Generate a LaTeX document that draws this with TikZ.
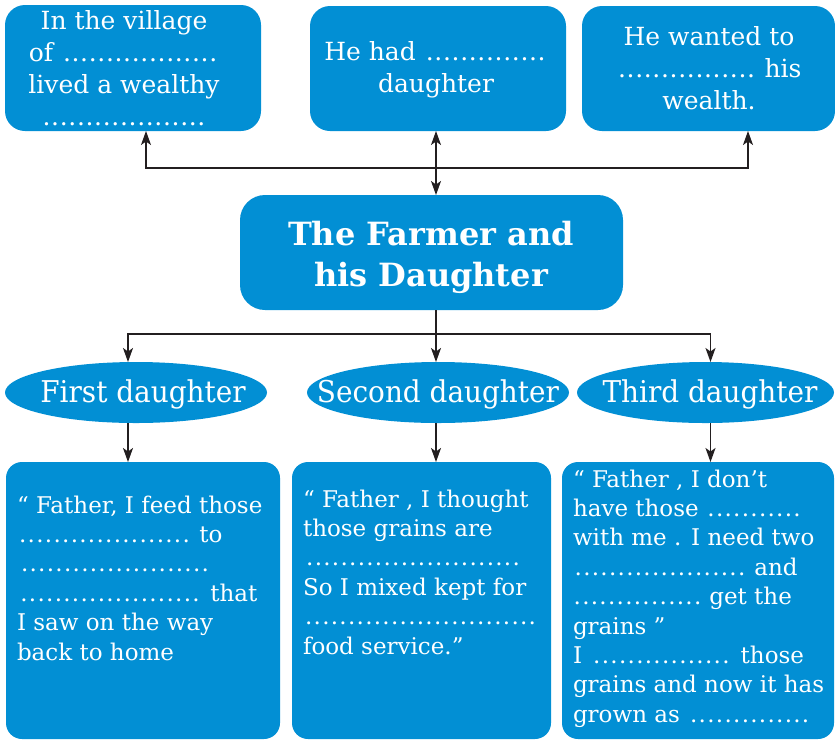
\documentclass[tikz,border=0pt]{standalone}
\usepackage{fontspec}
\setmainfont{DejaVu Serif}
\newfontfamily\elfont{DejaVu Serif}[FakeStretch=0.93]
\usetikzlibrary{arrows.meta,shapes.geometric}
\definecolor{fb}{RGB}{2,143,212}
\definecolor{ln}{RGB}{35,31,32}
\newcommand\dts[1]{\leavevmode\hbox to #1{\cleaders\hbox to 8.6pt{\hss.\hss}\hfill}}
\tikzset{
  box/.style={fill=fb, inner sep=0pt, outer sep=0pt},
  oval/.style={ellipse, fill=fb, inner sep=0pt, outer sep=0pt},
  txt/.style={text=white, inner sep=0pt, outer sep=0pt, font=\fontsize{23}{29.4}\selectfont},
  conn/.style={draw=ln, line width=1.3pt, -{Stealth[length=14pt,width=10pt,inset=3.5pt]}},
  conn2/.style={draw=ln, line width=1.3pt, {Stealth[length=14pt,width=10pt,inset=3.5pt]}-{Stealth[length=14pt,width=10pt,inset=3.5pt]}},
  line/.style={draw=ln, line width=1.3pt}
}
\begin{document}
\begin{tikzpicture}[x=1pt,y=-1pt]
\useasboundingbox (0,0) rectangle (835,740);
% top boxes
\node[box, rounded corners=20pt, minimum width=256pt, minimum height=126pt] (t1) at (133,68) {};
\node[box, rounded corners=20pt, minimum width=256pt, minimum height=125pt] (t2) at (438,68.5) {};
\node[box, rounded corners=20pt, minimum width=253pt, minimum height=125pt] (t3) at (708.5,68.5) {};
% central box
\node[box, rounded corners=25pt, minimum width=383pt, minimum height=115pt] (c) at (431.5,252.5) {};
% ellipses
\node[oval, minimum width=262pt, minimum height=61pt] (e1) at (136,392.5) {};
\node[oval, minimum width=262pt, minimum height=61pt] (e2) at (438,392.5) {};
\node[oval, minimum width=257pt, minimum height=61pt] (e3) at (705.5,392.5) {};
% bottom boxes
\node[box, rounded corners=16pt, minimum width=274pt, minimum height=277pt] (b1) at (143,600.5) {};
\node[box, rounded corners=16pt, minimum width=259pt, minimum height=277pt] (b2) at (421.5,600.5) {};
\node[box, rounded corners=16pt, minimum width=272pt, minimum height=277pt] (b3) at (698,600.5) {};

% texts top
\node[txt, anchor=base] (t1x) at (124,29) {\parbox[t]{250pt}{\centering\fontsize{25}{32.3}\selectfont In the village\\ of \dts{158pt}\\ lived a wealthy\\ \dts{164pt}}};
\node[txt, anchor=base] (t2x) at (436,60) {\parbox[t]{250pt}{\centering\fontsize{25}{32}\selectfont He had \dts{124pt}\\ daughter}};
\node[txt, anchor=base] (t3x) at (709,45) {\parbox[t]{250pt}{\centering\fontsize{25}{32}\selectfont He wanted to\\ \dts{140pt} his\\ wealth.}};
% title
\node[txt, anchor=base] (cx) at (431,245) {\parbox[t]{380pt}{\centering\fontsize{32}{41}\selectfont\bfseries The Farmer and\\ his Daughter}};
% ellipse texts
\node[txt, anchor=base] (e1x) at (143,402) {\elfont\fontsize{30}{30}\selectfont First daughter};
\node[txt, anchor=base] (e2x) at (438,402) {\elfont\fontsize{30}{30}\selectfont Second daughter};
\node[txt, anchor=base] (e3x) at (710,402) {\elfont\fontsize{30}{30}\selectfont Third daughter};
% bottom texts
\node[txt, anchor=base west] (b1x) at (17,513) {\parbox[t]{262pt}{\raggedright
“ Father, I feed those\\ \dts{175pt} to\\ \dts{196pt}\\ \dts{186pt} that\\ I saw on the way\\ back to home}};
\node[txt, anchor=base west] (b2x) at (303,507) {\parbox[t]{245pt}{\raggedright
“ Father , I thought\\ those grains are\\ \dts{220pt}\\ So I mixed kept for\\ \dts{235pt}\\ food service.”}};
\node[txt, anchor=base west] (b3x) at (573,487) {\parbox[t]{262pt}{\raggedright
“ Father , I don’t\\ have those \dts{96pt}\\ with me . I need two\\ \dts{174pt} and\\ \dts{129pt} get the\\ grains ”\\ I \dts{144pt} those\\ grains and now it has\\ grown as \dts{125pt}}};

% connectors top
\coordinate (hubT) at (436,168);
\draw[conn2] ([xshift=-2pt]t2.south) -- ([xshift=4.5pt]c.north);
\draw[conn] (hubT) -| ([xshift=13pt]t1.south);
\draw[conn] (hubT) -| ([xshift=39.5pt]t3.south);
% connectors bottom
\coordinate (hubB) at (436,334);
\draw[line] ([xshift=4.5pt]c.south) -- (hubB);
\draw[conn] (hubB) -| ([xshift=-8pt]e1.north);
\draw[conn] (hubB) -- ([xshift=-2pt]e2.north);
\draw[conn] (hubB) -| ([xshift=5pt]e3.north);
\draw[conn] ([xshift=-8pt]e1.south) -- ([xshift=-8pt]e1.south |- b1.north);
\draw[conn] ([xshift=-2pt]e2.south) -- ([xshift=-2pt]e2.south |- b2.north);
\draw[conn] ([xshift=5pt]e3.south) -- ([xshift=5pt]e3.south |- b3.north);
\end{tikzpicture}
\end{document}
